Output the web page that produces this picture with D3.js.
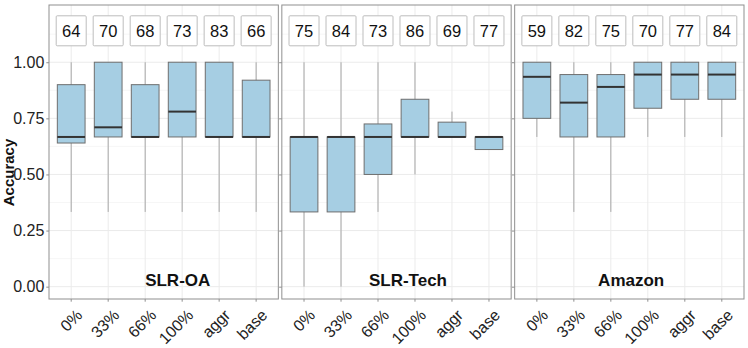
<!DOCTYPE html>
<html>
<head>
<meta charset="utf-8">
<script src="https://cdn.jsdelivr.net/npm/d3@7"></script>
<style>
  body { margin: 0; background: #fff; }
  svg { font-family: "Liberation Sans", Arial, sans-serif; }
</style>
</head>
<body>
<svg id="chart" width="748" height="348"></svg>
<script>
// categories and facets
const categories = ["0%", "33%", "66%", "100%", "aggr", "base"];
const panels = ["SLR-OA", "SLR-Tech", "Amazon"];

// number of items per box (label on top)
const countsOA = [64, 70, 68, 73, 83, 66];
const countsTech = [75, 84, 73, 86, 69, 77];
const countsAmazon = [59, 82, 75, 70, 77, 84];

// five-number summaries: [lower whisker, q1, median, q3, upper whisker]
const statsOA = [
  [0.333, 0.64, 0.667, 0.90, 1.0],
  [0.333, 0.667, 0.71, 1.0, 1.0],
  [0.333, 0.667, 0.667, 0.90, 1.0],
  [0.333, 0.667, 0.78, 1.0, 1.0],
  [0.333, 0.667, 0.667, 1.0, 1.0],
  [0.333, 0.667, 0.667, 0.92, 1.0]
];
const statsTech = [
  [0.0, 0.333, 0.667, 0.667, 1.0],
  [0.0, 0.333, 0.667, 0.667, 1.0],
  [0.333, 0.50, 0.667, 0.725, 1.0],
  [0.50, 0.667, 0.667, 0.835, 1.0],
  [0.667, 0.667, 0.667, 0.733, 0.78],
  [0.611, 0.611, 0.667, 0.667, 0.667]
];
const statsAmazon = [
  [0.667, 0.75, 0.935, 1.0, 1.0],
  [0.333, 0.667, 0.82, 0.945, 1.0],
  [0.333, 0.667, 0.89, 0.945, 1.0],
  [0.667, 0.795, 0.945, 1.0, 1.0],
  [0.667, 0.835, 0.945, 1.0, 1.0],
  [0.667, 0.835, 0.945, 1.0, 1.0]
];

const yTicks = [0, 0.25, 0.5, 0.75, 1.0];
const yMinor = [0.125, 0.375, 0.625, 0.875, 1.125];

const facetCounts = [countsOA, countsTech, countsAmazon];
const facetStats = [statsOA, statsTech, statsAmazon];
const titlePos = [2.88, 2.81, 2.55]; // where the facet name sits, in category units

const svg = d3.select("#chart");

const LEFT = 49, RIGHT = 744, TOP = 5, BOTTOM = 299;
const GAP = 3.5;
const panelW = (RIGHT - LEFT - 2 * GAP) / 3;

const y = d3.scaleLinear().domain([-0.055, 1.255]).range([BOTTOM, TOP]);
const LABEL_Y = 1.14;

panels.forEach((name, p) => {
  const x0 = LEFT + p * (panelW + GAP);
  const x = d3.scaleBand()
    .domain(categories)
    .range([x0, x0 + panelW])
    .paddingOuter(0.1)
    .paddingInner(0);
  const step = x.step();
  const cx = c => x(c) + step / 2;
  const boxW = step * 0.75;

  const g = svg.append("g").attr("class", "panel");

  // grid
  g.selectAll("line.minor").data(yMinor).enter().append("line")
    .attr("x1", x0).attr("x2", x0 + panelW)
    .attr("y1", d => y(d)).attr("y2", d => y(d))
    .attr("stroke", "#f4f4f4").attr("stroke-width", 0.8);
  g.selectAll("line.major").data(yTicks).enter().append("line")
    .attr("x1", x0).attr("x2", x0 + panelW)
    .attr("y1", d => y(d)).attr("y2", d => y(d))
    .attr("stroke", "#ebebeb").attr("stroke-width", 1);
  g.selectAll("line.vgrid").data(categories).enter().append("line")
    .attr("x1", d => cx(d)).attr("x2", d => cx(d))
    .attr("y1", TOP).attr("y2", BOTTOM)
    .attr("stroke", "#ebebeb").attr("stroke-width", 1);

  const stats = facetStats[p];
  const counts = facetCounts[p];

  // whiskers
  g.selectAll("line.whisk").data(categories).enter().append("line")
    .attr("x1", d => cx(d)).attr("x2", d => cx(d))
    .attr("y1", (d, i) => y(stats[i][0])).attr("y2", (d, i) => y(stats[i][4]))
    .attr("stroke", "#a8a8a8").attr("stroke-width", 1);

  // boxes
  g.selectAll("rect.box").data(categories).enter().append("rect")
    .attr("x", d => cx(d) - boxW / 2)
    .attr("width", boxW)
    .attr("y", (d, i) => y(stats[i][3]))
    .attr("height", (d, i) => y(stats[i][1]) - y(stats[i][3]))
    .attr("fill", "#a6cee3")
    .attr("stroke", "#6e6e6e").attr("stroke-width", 1);

  // medians
  g.selectAll("line.med").data(categories).enter().append("line")
    .attr("x1", d => cx(d) - boxW / 2).attr("x2", d => cx(d) + boxW / 2)
    .attr("y1", (d, i) => y(stats[i][2])).attr("y2", (d, i) => y(stats[i][2]))
    .attr("stroke", "#333").attr("stroke-width", 2);

  // count labels
  const lab = g.selectAll("g.lab").data(categories).enter().append("g")
    .attr("transform", d => `translate(${cx(d)},${y(LABEL_Y)})`);
  lab.append("rect")
    .attr("x", -15).attr("y", -15).attr("width", 30).attr("height", 30)
    .attr("rx", 1)
    .attr("fill", "#fff").attr("stroke", "#bdbdbd").attr("stroke-width", 1);
  lab.append("text")
    .attr("text-anchor", "middle").attr("dy", "0.36em")
    .attr("font-size", 16.5).attr("fill", "#111")
    .text((d, i) => counts[i]);

  // facet name
  g.append("text")
    .attr("x", x0 + step * 0.6 + titlePos[p] * step)
    .attr("y", y(0) - 1)
    .attr("text-anchor", "middle")
    .attr("font-size", 17).attr("font-weight", "bold").attr("fill", "#111")
    .text(name);

  // border
  g.append("rect")
    .attr("x", x0).attr("y", TOP).attr("width", panelW).attr("height", BOTTOM - TOP)
    .attr("fill", "none").attr("stroke", "#8f8f8f").attr("stroke-width", 1);

  // y ticks (labels only on first panel)
  const yAxis = d3.axisLeft(y).tickValues(yTicks).tickSize(2.7).tickPadding(2)
    .tickFormat(p === 0 ? d3.format(".2f") : () => "");
  const ya = g.append("g").attr("transform", `translate(${x0},0)`).call(yAxis);
  ya.select(".domain").remove();
  ya.selectAll(".tick line").attr("stroke", "#8f8f8f");
  ya.selectAll(".tick text").attr("font-size", 16).attr("fill", "#222")
    .attr("font-family", "Liberation Sans, Arial, sans-serif");

  // x ticks
  const xAxis = d3.axisBottom(x).tickSize(2.7).tickSizeOuter(0);
  const xa = g.append("g").attr("transform", `translate(0,${BOTTOM})`).call(xAxis);
  xa.select(".domain").remove();
  xa.selectAll(".tick line").attr("stroke", "#8f8f8f");
  xa.selectAll(".tick text")
    .attr("font-size", 16).attr("fill", "#222")
    .attr("font-family", "Liberation Sans, Arial, sans-serif")
    .attr("text-anchor", "end")
    .attr("y", 0).attr("dy", "0.72em")
    .attr("transform", "translate(4,9) rotate(-45)");
});

// y axis title
svg.append("text")
  .attr("transform", "translate(13.5,172.5) rotate(-90)")
  .attr("text-anchor", "middle")
  .attr("font-size", 15).attr("font-weight", "bold").attr("fill", "#111")
  .text("Accuracy");
</script>
</body>
</html>
